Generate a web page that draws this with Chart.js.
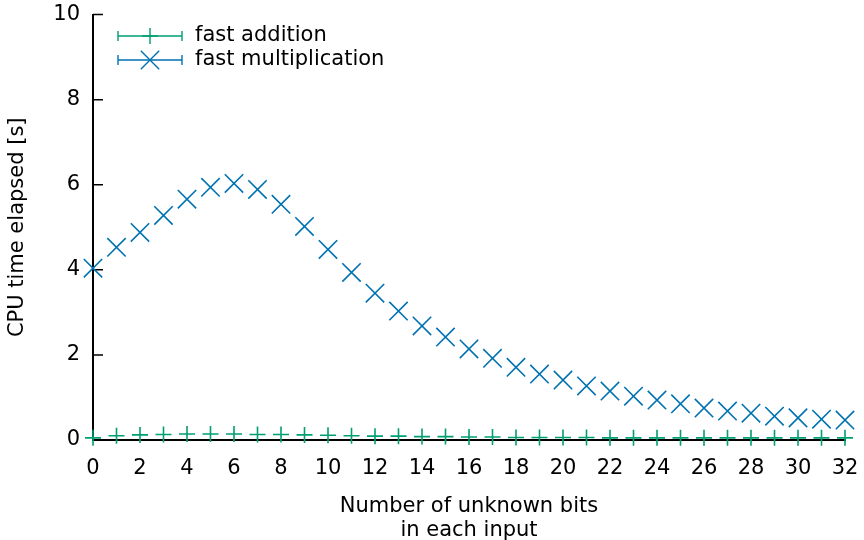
<!DOCTYPE html>
<html>
<head>
<meta charset="utf-8">
<script src="https://cdn.jsdelivr.net/npm/chart.js@4/dist/chart.umd.min.js"></script>
<style>
  html, body { margin: 0; padding: 0; background: #fff; }
  #wrap { width: 864px; height: 540px; }
</style>
</head>
<body>
<div id="wrap"><canvas id="cpuChart"></canvas></div>
<script>
// Chart data
const unknownBits = [0,1,2,3,4,5,6,7,8,9,10,11,12,13,14,15,16,17,18,19,20,21,22,23,24,25,26,27,28,29,30,31,32];
const fastAddition = [0.05,0.10,0.12,0.13,0.14,0.14,0.14,0.13,0.13,0.12,0.11,0.10,0.09,0.09,0.08,0.08,0.07,0.07,0.06,0.06,0.06,0.06,0.05,0.05,0.05,0.05,0.05,0.05,0.05,0.05,0.05,0.05,0.05];
const fastMultiplication = [4.04,4.53,4.88,5.28,5.66,5.94,6.03,5.89,5.54,5.02,4.48,3.94,3.45,3.03,2.68,2.42,2.14,1.92,1.71,1.55,1.41,1.27,1.15,1.03,0.94,0.85,0.75,0.68,0.63,0.56,0.52,0.49,0.47];
const xTicks = [0,2,4,6,8,10,12,14,16,18,20,22,24,26,28,30,32];
const yTicks = [0,2,4,6,8,10];

const FONT = 'DejaVu Sans';
const FONT_SIZE = 21;
const GREEN = '#009e73';
const BLUE = '#0072b2';

function toPoints(values) {
  return unknownBits.map((x, i) => ({ x: x, y: values[i] }));
}

// Inward y ticks and the gnuplot style legend
const gnuplotExtras = {
  id: 'gnuplotExtras',
  beforeDatasetsDraw(chart) {
    const ctx = chart.ctx;
    const area = chart.chartArea;
    const ys = chart.scales.y;
    ctx.save();
    ctx.strokeStyle = '#000';
    ctx.lineWidth = 1.5;
    ctx.beginPath();
    yTicks.forEach(v => {
      const py = ys.getPixelForValue(v);
      ctx.moveTo(area.left, py);
      ctx.lineTo(area.left + 10, py);
    });
    ctx.stroke();
    ctx.restore();
  },
  afterDatasetsDraw(chart) {
    const ctx = chart.ctx;
    ctx.save();
    const items = [
      { label: 'fast addition', color: GREEN, style: 'cross', radius: 8 },
      { label: 'fast multiplication', color: BLUE, style: 'crossRot', radius: 13 }
    ];
    const x0 = 118, x1 = 182;
    items.forEach((item, i) => {
      const y = 36 + i * 24;
      ctx.strokeStyle = item.color;
      ctx.lineWidth = 1.4;
      ctx.beginPath();
      ctx.moveTo(x0, y); ctx.lineTo(x1, y);
      ctx.moveTo(x0, y - 5); ctx.lineTo(x0, y + 5);
      ctx.moveTo(x1, y - 5); ctx.lineTo(x1, y + 5);
      ctx.stroke();
      Chart.helpers.drawPoint(ctx, {
        pointStyle: item.style, radius: item.radius, borderWidth: 1.5, rotation: 0
      }, (x0 + x1) / 2, y);
      ctx.fillStyle = '#000';
      ctx.font = FONT_SIZE + 'px "' + FONT + '"';
      ctx.textBaseline = 'middle';
      ctx.textAlign = 'left';
      ctx.fillText(item.label, 195, y);
    });
    ctx.restore();
  }
};

new Chart(document.getElementById('cpuChart'), {
  type: 'scatter',
  data: {
    datasets: [
      {
        label: 'fast addition',
        data: toPoints(fastAddition),
        pointStyle: 'cross',
        pointRadius: 8,
        pointHoverRadius: 8,
        pointBorderWidth: 1.6,
        borderColor: GREEN,
        backgroundColor: GREEN,
        showLine: false,
        clip: false
      },
      {
        label: 'fast multiplication',
        data: toPoints(fastMultiplication),
        pointStyle: 'crossRot',
        pointRadius: 13,
        pointHoverRadius: 13,
        pointBorderWidth: 1.6,
        borderColor: BLUE,
        backgroundColor: BLUE,
        showLine: false,
        clip: false
      }
    ]
  },
  options: {
    responsive: true,
    maintainAspectRatio: false,
    animation: false,
    layout: { padding: { left: 0, right: 19, top: 14, bottom: 0 } },
    plugins: {
      legend: { display: false },
      tooltip: { enabled: false }
    },
    scales: {
      x: {
        type: 'linear',
        min: 0,
        max: 32,
        afterBuildTicks(axis) { axis.ticks = xTicks.map(v => ({ value: v })); },
        afterFit(axis) { axis.height = 100; axis.paddingLeft = 0; axis.paddingRight = 0; },
        grid: { display: false, drawTicks: false },
        border: { display: true, color: '#000', width: 2 },
        ticks: { color: '#000', font: { family: FONT, size: FONT_SIZE }, padding: 16, maxRotation: 0 },
        title: {
          display: true,
          text: ['Number of unknown bits', 'in each input'],
          color: '#000',
          font: { family: FONT, size: FONT_SIZE, lineHeight: 1.15 },
          padding: { top: 17, bottom: -3 }
        }
      },
      y: {
        type: 'linear',
        min: 0,
        max: 10,
        afterBuildTicks(axis) { axis.ticks = yTicks.map(v => ({ value: v })); },
        afterFit(axis) { axis.width = 93; axis.paddingTop = 0; axis.paddingBottom = 0; },
        grid: { display: false, drawTicks: false },
        border: { display: true, color: '#000', width: 2 },
        ticks: { color: '#000', font: { family: FONT, size: FONT_SIZE }, padding: 13 },
        title: {
          display: true,
          text: 'CPU time elapsed [s]',
          color: '#000',
          font: { family: FONT, size: FONT_SIZE },
          padding: { top: 5, bottom: 8 }
        }
      }
    }
  },
  plugins: [gnuplotExtras]
});
</script>
</body>
</html>
